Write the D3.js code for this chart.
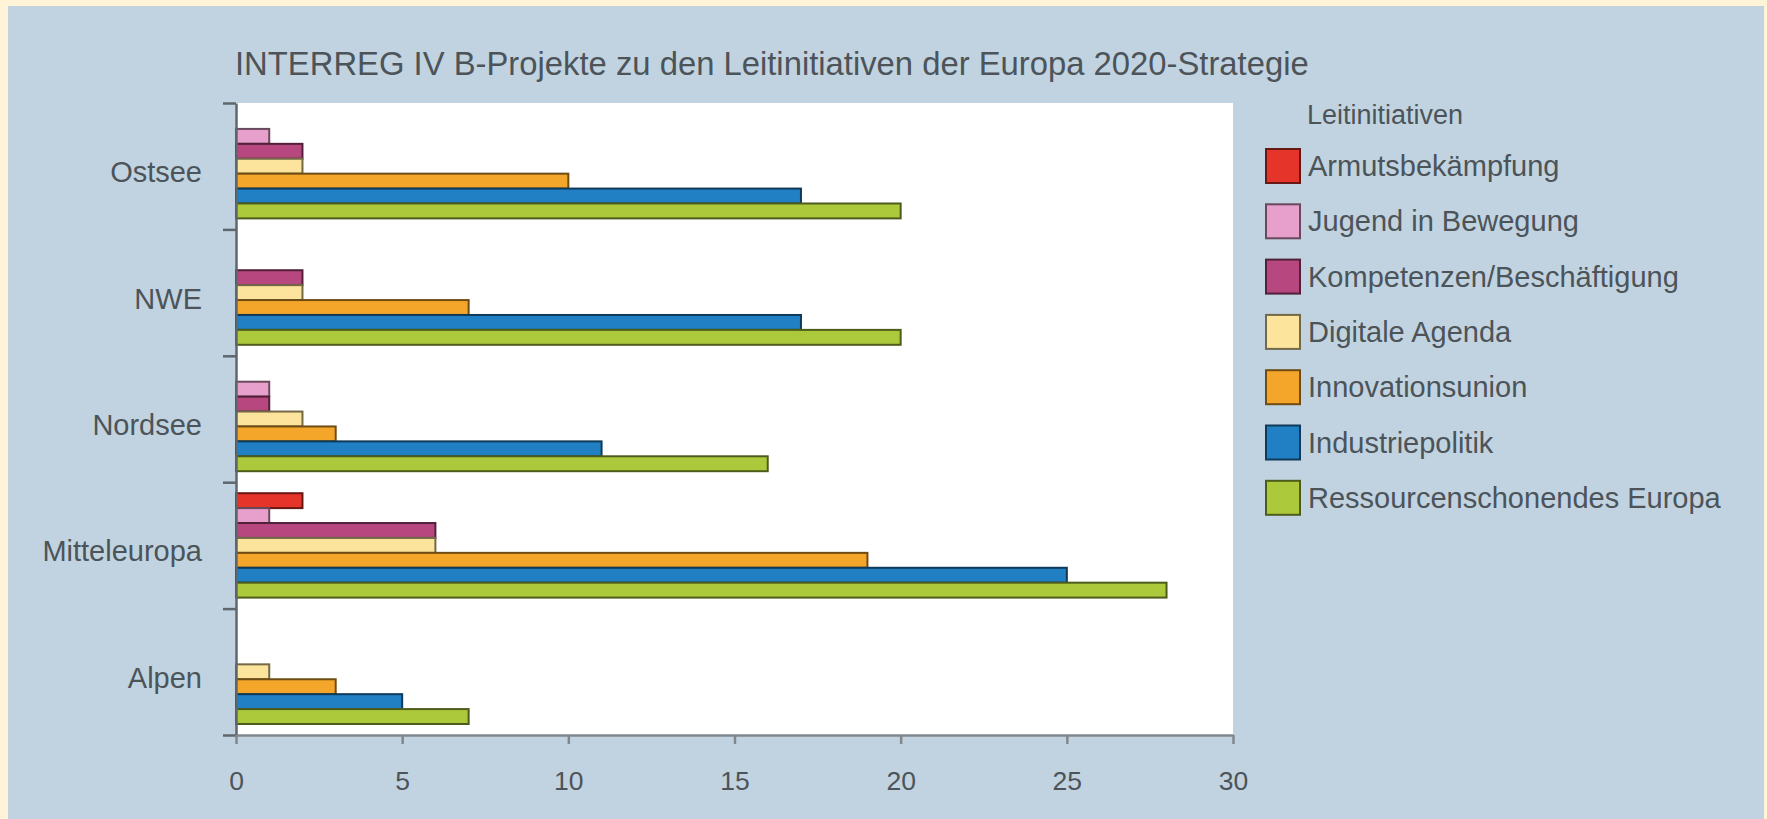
<!DOCTYPE html>
<html>
<head>
<meta charset="utf-8">
<script src="https://cdn.jsdelivr.net/npm/d3@7"></script>
<style>
  html, body { margin: 0; padding: 0; background: #fff3d8; }
  svg { display: block; }
  text { font-family: "Liberation Sans", Arial, sans-serif; fill: #4c5459; }
</style>
</head>
<body>
<svg id="chart" width="1767" height="819"></svg>
<script>
// regions (rows) and initiatives (series), top to bottom inside each row
var regions = ['Ostsee', 'NWE', 'Nordsee', 'Mitteleuropa', 'Alpen'];
var initiatives = ['Armutsbekämpfung', 'Jugend in Bewegung', 'Kompetenzen/Beschäftigung',
  'Digitale Agenda', 'Innovationsunion', 'Industriepolitik', 'Ressourcenschonendes Europa'];
var colors = ['#e5352b', '#e79fcb', '#b6477f', '#fde49c', '#f4a62a', '#2180c3', '#abc93b'];

// project counts per initiative, in region order
var armut = [0, 0, 0, 2, 0];
var jugend = [1, 0, 1, 1, 0];
var kompetenzen = [2, 2, 1, 6, 0];
var digitale = [2, 2, 2, 6, 1];
var innovation = [10, 7, 3, 19, 3];
var industrie = [17, 17, 11, 25, 5];
var ressourcen = [20, 20, 16, 28, 7];
var series = [armut, jugend, kompetenzen, digitale, innovation, industrie, ressourcen];

var xTicks = [0, 5, 10, 15, 20, 25, 30];
var title = 'INTERREG IV B-Projekte zu den Leitinitiativen der Europa 2020-Strategie';
var legendTitle = 'Leitinitiativen';

var svg = d3.select('#chart');
var W = 1767, H = 819;
var margin = {left: 236, top: 103, right: 534, bottom: 84};
var pw = W - margin.left - margin.right, ph = H - margin.top - margin.bottom;

// panel
svg.append('rect').attr('x', 8).attr('y', 6).attr('width', 1756).attr('height', H)
  .attr('fill', '#c1d3e0');

svg.append('text').attr('x', 235).attr('y', 75).attr('font-size', 32.8).text(title);

var g = svg.append('g').attr('transform', 'translate(' + margin.left + ',' + margin.top + ')');
g.append('rect').attr('width', pw).attr('height', ph).attr('fill', '#ffffff');

var x = d3.scaleLinear().domain([0, 30]).range([0, pw]);
var y = d3.scaleBand().domain(regions).range([0, ph]);
var yi = d3.scaleBand().domain(initiatives).range([11, y.bandwidth() - 11]);

var rows = g.selectAll('g.row').data(regions).enter().append('g')
  .attr('class', 'row')
  .attr('transform', function(d) { return 'translate(0,' + y(d) + ')'; });

rows.selectAll('rect').data(function(d, ri) {
  return initiatives.map(function(name, si) {
    return {name: name, value: series[si][ri], color: colors[si]};
  }).filter(function(e) { return e.value > 0; });
}).enter().append('rect')
  .attr('x', x(0))
  .attr('y', function(d) { return yi(d.name); })
  .attr('width', function(d) { return x(d.value) - x(0); })
  .attr('height', yi.bandwidth())
  .attr('fill', function(d) { return d.color; })
  .attr('stroke', function(d) { return d3.color(d.color).darker(2.2); })
  .attr('stroke-width', 2);

// left axis: ticks on the row boundaries
var yb = d3.scaleLinear().domain([0, regions.length]).range([0, ph]);
var yAxis = g.append('g').call(d3.axisLeft(yb).tickValues(d3.range(regions.length + 1))
  .tickFormat('').tickSize(13).tickSizeOuter(0));
yAxis.selectAll('path, line').attr('stroke', '#5f676c').attr('stroke-width', 2.5);

g.selectAll('text.cat').data(regions).enter().append('text')
  .attr('class', 'cat')
  .attr('x', -34)
  .attr('y', function(d) { return y(d) + y.bandwidth() / 2 + 16; })
  .attr('text-anchor', 'end')
  .attr('font-size', 29)
  .text(function(d) { return d; });

var xAxis = g.append('g').attr('transform', 'translate(0,' + ph + ')')
  .call(d3.axisBottom(x).tickValues(xTicks).tickSize(9).tickSizeOuter(0).tickPadding(27));
xAxis.selectAll('path, line').attr('stroke', '#80888d').attr('stroke-width', 2.5);
xAxis.selectAll('text').attr('font-size', 26.5).attr('fill', '#4c5459')
  .attr('font-family', '"Liberation Sans", Arial, sans-serif');

// legend
var lg = svg.append('g').attr('transform', 'translate(1265,148)');
lg.append('text').attr('x', 42).attr('y', -24).attr('font-size', 27).text(legendTitle);
var items = lg.selectAll('g.item').data(initiatives).enter().append('g')
  .attr('class', 'item')
  .attr('transform', function(d, i) { return 'translate(0,' + (i * 55.3) + ')'; });
items.append('rect').attr('x', 1).attr('y', 1).attr('width', 34).attr('height', 34)
  .attr('fill', function(d, i) { return colors[i]; })
  .attr('stroke', function(d, i) { return d3.color(colors[i]).darker(2.2); })
  .attr('stroke-width', 2);
items.append('text').attr('x', 43).attr('y', 28).attr('font-size', 29)
  .text(function(d) { return d; });
</script>
</body>
</html>
